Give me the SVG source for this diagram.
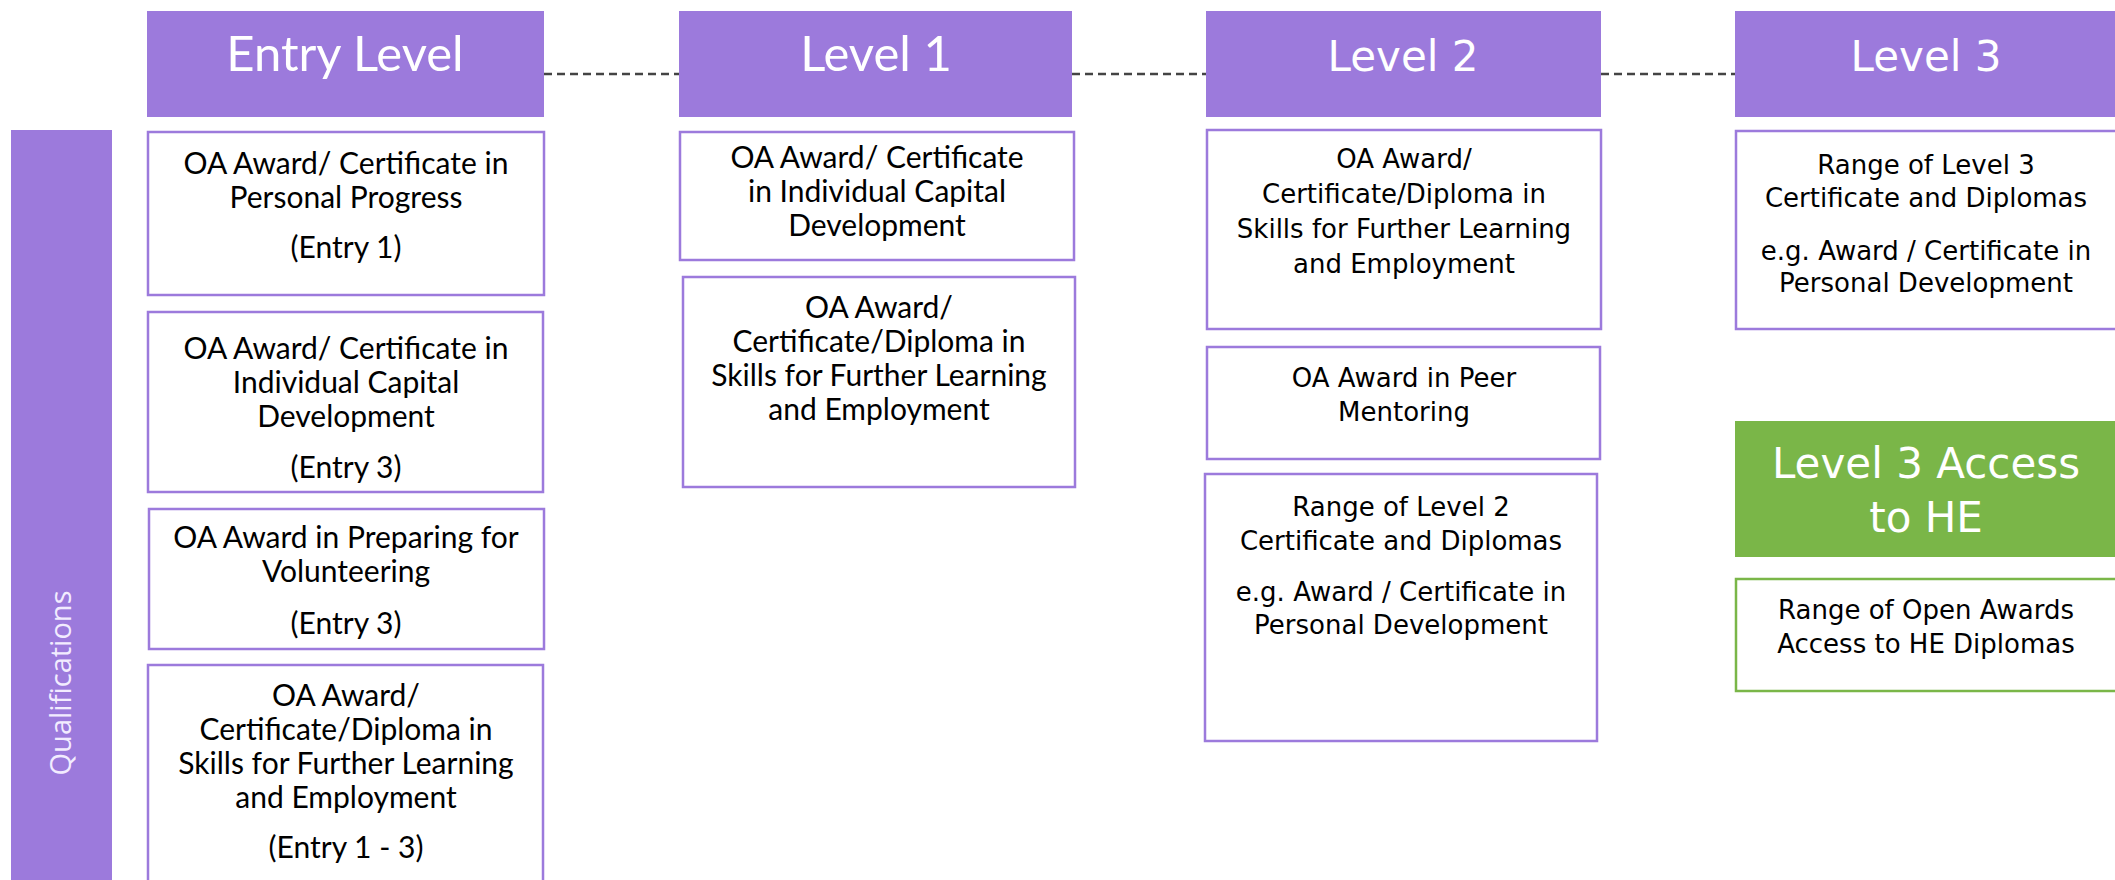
<svg xmlns="http://www.w3.org/2000/svg" width="2115" height="880" viewBox="0 0 2115 880">
  <style>
    .hdr { fill: #9c7adc; }
    .hdr-g { fill: #7ab648; }
    .box { fill: #ffffff; stroke: #9c7adc; stroke-width: 2.5; }
    .box-g { fill: #ffffff; stroke: #7ab648; stroke-width: 2.5; }
    .link { stroke: #444444; stroke-width: 2.5; stroke-dasharray: 8 5; fill: none; }
    .tn { font-family: Lato, "Liberation Sans", sans-serif; font-size: 30px; fill: #000; text-anchor: middle; }
    .tw { font-family: "DejaVu Sans", Verdana, sans-serif; font-size: 26px; fill: #000; text-anchor: middle; }
    .hn { font-family: Lato, "Liberation Sans", sans-serif; font-size: 49px; fill: #fff; text-anchor: middle; }
    .hw { font-family: "DejaVu Sans", Verdana, sans-serif; font-size: 42px; fill: #fff; text-anchor: middle; }
    .side { font-family: "Open Sans", "Liberation Sans", sans-serif; font-size: 29px; fill: #f2ecff; text-anchor: middle; }
  </style>

  <!-- side band -->
  <g id="qualifications">
    <rect class="hdr" x="11" y="130" width="101" height="760"/>
    <text class="side" transform="translate(71,683) rotate(-90)">Qualifications</text>
  </g>

  <!-- dashed links between level headers -->
  <g id="connectors">
    <line class="link" x1="544" y1="74" x2="679" y2="74"/>
    <line class="link" x1="1072" y1="74" x2="1206" y2="74"/>
    <line class="link" x1="1601" y1="74" x2="1735" y2="74"/>
  </g>

  <!-- level headers -->
  <g id="entry-level">
    <rect class="hdr" x="147" y="11" width="397" height="106"/>
    <text class="hn" x="345" y="71">Entry Level</text>
  </g>
  <g id="level-1">
    <rect class="hdr" x="679" y="11" width="393" height="106"/>
    <text class="hn" x="876" y="71">Level 1</text>
  </g>
  <g id="level-2">
    <rect class="hdr" x="1206" y="11" width="395" height="106"/>
    <text class="hw" x="1403" y="71">Level 2</text>
  </g>
  <g id="level-3">
    <rect class="hdr" x="1735" y="11" width="400" height="106"/>
    <text class="hw" x="1926" y="71">Level 3</text>
  </g>

  <!-- entry level qualifications -->
  <g id="entry-personal-progress">
    <rect class="box" x="148" y="132" width="396" height="163"/>
    <text class="tn" x="346" y="174">OA Award/ Certificate in</text>
    <text class="tn" x="346" y="208">Personal Progress</text>
    <text class="tn" x="346" y="258">(Entry 1)</text>
  </g>
  <g id="entry-capital-development">
    <rect class="box" x="148" y="312" width="395" height="180"/>
    <text class="tn" x="346" y="359">OA Award/ Certificate in</text>
    <text class="tn" x="346" y="393">Individual Capital</text>
    <text class="tn" x="346" y="427">Development</text>
    <text class="tn" x="346" y="478">(Entry 3)</text>
  </g>
  <g id="entry-volunteering">
    <rect class="box" x="149" y="509" width="395" height="140"/>
    <text class="tn" x="346" y="548">OA Award in Preparing for</text>
    <text class="tn" x="346" y="582">Volunteering</text>
    <text class="tn" x="346" y="634">(Entry 3)</text>
  </g>
  <g id="entry-further-learning">
    <rect class="box" x="148" y="665" width="395" height="230"/>
    <text class="tn" x="346" y="706">OA Award/</text>
    <text class="tn" x="346" y="740">Certificate/Diploma in</text>
    <text class="tn" x="346" y="774">Skills for Further Learning</text>
    <text class="tn" x="346" y="808">and Employment</text>
    <text class="tn" x="346" y="858">(Entry 1 - 3)</text>
  </g>

  <!-- level 1 qualifications -->
  <g id="l1-capital-development">
    <rect class="box" x="680" y="132" width="394" height="128"/>
    <text class="tn" x="877" y="168">OA Award/ Certificate</text>
    <text class="tn" x="877" y="202">in Individual Capital</text>
    <text class="tn" x="877" y="236">Development</text>
  </g>
  <g id="l1-further-learning">
    <rect class="box" x="683" y="277" width="392" height="210"/>
    <text class="tn" x="879" y="318">OA Award/</text>
    <text class="tn" x="879" y="352">Certificate/Diploma in</text>
    <text class="tn" x="879" y="386">Skills for Further Learning</text>
    <text class="tn" x="879" y="420">and Employment</text>
  </g>

  <!-- level 2 qualifications -->
  <g id="l2-further-learning">
    <rect class="box" x="1207" y="130" width="394" height="199"/>
    <text class="tw" x="1404" y="168">OA Award/</text>
    <text class="tw" x="1404" y="203">Certificate/Diploma in</text>
    <text class="tw" x="1404" y="238">Skills for Further Learning</text>
    <text class="tw" x="1404" y="273">and Employment</text>
  </g>
  <g id="l2-peer-mentoring">
    <rect class="box" x="1207" y="347" width="393" height="112"/>
    <text class="tw" x="1404" y="387">OA Award in Peer</text>
    <text class="tw" x="1404" y="421">Mentoring</text>
  </g>
  <g id="l2-range">
    <rect class="box" x="1205" y="474" width="392" height="267"/>
    <text class="tw" x="1401" y="516">Range of Level 2</text>
    <text class="tw" x="1401" y="550">Certificate and Diplomas</text>
    <text class="tw" x="1401" y="601">e.g. Award / Certificate in</text>
    <text class="tw" x="1401" y="634">Personal Development</text>
  </g>

  <!-- level 3 qualifications -->
  <g id="l3-range">
    <rect class="box" x="1736" y="131" width="400" height="198"/>
    <text class="tw" x="1926" y="174">Range of Level 3</text>
    <text class="tw" x="1926" y="207">Certificate and Diplomas</text>
    <text class="tw" x="1926" y="260">e.g. Award / Certificate in</text>
    <text class="tw" x="1926" y="292">Personal Development</text>
  </g>
  <g id="l3-access-he">
    <rect class="hdr-g" x="1735" y="421" width="400" height="136"/>
    <text class="hw" x="1926" y="478">Level 3 Access</text>
    <text class="hw" x="1926" y="532">to HE</text>
  </g>
  <g id="l3-access-diplomas">
    <rect class="box-g" x="1736" y="579" width="400" height="112"/>
    <text class="tw" x="1926" y="619">Range of Open Awards</text>
    <text class="tw" x="1926" y="653">Access to HE Diplomas</text>
  </g>
</svg>
